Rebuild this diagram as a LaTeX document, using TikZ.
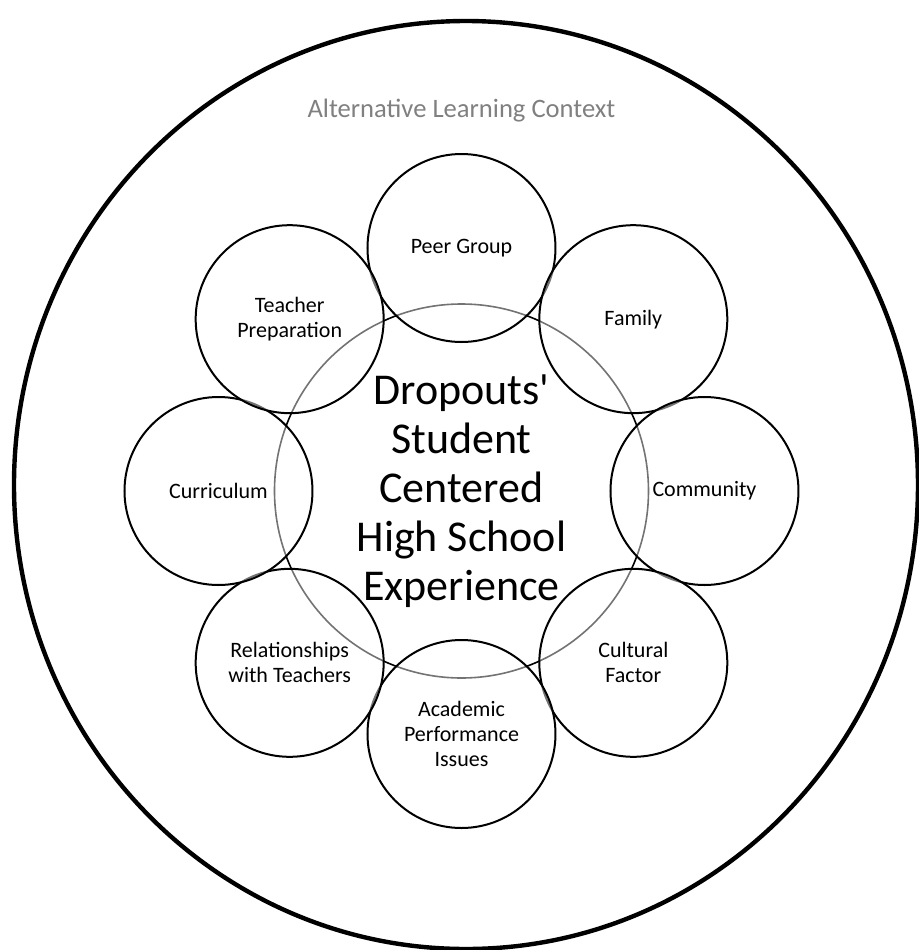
\documentclass[tikz,border=0pt]{standalone}
\usepackage{fontspec}
\setmainfont{Carlito}
\usetikzlibrary{positioning, shapes.geometric}

\definecolor{ctxgray}{RGB}{128,128,128}

\tikzset{
  factor/.style={circle, draw=black, line width=1pt, fill=white, fill opacity=0.45,
    text opacity=1, minimum size=94pt, inner sep=0pt, align=center,
    font=\fontsize{11}{12.4}\selectfont},
  core/.style={circle, draw=black, line width=0.8pt, minimum size=187pt,
    inner sep=0pt, align=center, font=\fontsize{22}{24.5}\selectfont},
  context/.style={ellipse, draw=black, line width=2.2pt, minimum width=452pt,
    minimum height=464pt, inner sep=0pt}
}

\begin{document}
\begin{tikzpicture}[x=0.5pt, y=0.5pt]

\useasboundingbox (-461.5,-459) rectangle (457.5,491);

% Outer context
\node[context] (ctx) at (4.5,6) {};
\node[text=ctxgray, font=\fontsize{13.3}{15}\selectfont] (ctxlabel) at (0,380) {Alternative Learning Context};

% Central experience
\node[core] (exp) at (0,0) {Dropouts\textquotesingle\\Student\\Centered\\High School\\Experience};

% Surrounding factors
\node[factor] (peer) at (90:243) {Peer Group};
\node[factor] (family) at (45:243) {Family};
\node[factor] (community) at (0:243) {Community};
\node[factor] (cultural) at (-45:243) {Cultural\\Factor};
\node[factor] (academic) at (-90:243) {Academic\\Performance\\Issues};
\node[factor] (relations) at (-135:243) {Relationships\\with Teachers};
\node[factor] (curriculum) at (180:243) {Curriculum};
\node[factor] (teacherprep) at (135:243) {Teacher\\Preparation};

\end{tikzpicture}
\end{document}
